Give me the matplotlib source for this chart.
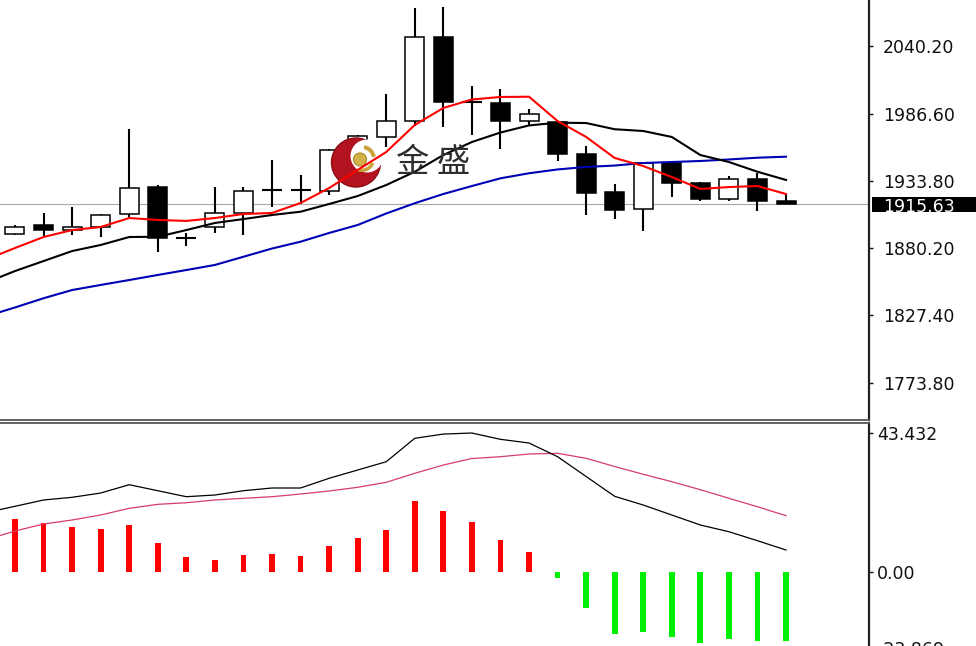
import numpy as np
import matplotlib
matplotlib.use('Agg')
import matplotlib.pyplot as plt
from matplotlib.patches import Rectangle, Circle, Wedge
from matplotlib.transforms import Affine2D, blended_transform_factory

# ---------------- data ----------------
opens = [1891.6, 1898.7, 1894.7, 1896.9, 1907.2, 1928.7, 1888.7, 1896.9, 1908.0, 1926.4,
         1926.4, 1925.8, 1958.0, 1968.5, 1981.2, 2047.6, 1995.7, 1994.9, 1981.2, 1980.1,
         1954.8, 1924.6, 1911.1, 1948.0, 1931.7, 1919.3, 1934.8, 1917.7]
highs = [1898.7, 1908.0, 1913.2, 1907.6, 1974.4, 1930.1, 1892.1, 1928.5, 1929.0, 1950.1,
         1938.5, 1958.5, 1969.8, 2002.3, 2070.0, 2070.8, 2008.6, 2006.0, 1990.4, 1980.4,
         1961.4, 1931.4, 1948.7, 1948.5, 1932.7, 1937.4, 1940.0, 1923.0]
lows = [1890.4, 1889.0, 1890.6, 1889.0, 1904.8, 1877.1, 1882.1, 1892.6, 1890.6, 1913.2,
        1915.3, 1922.7, 1956.4, 1960.6, 1977.0, 1975.9, 1969.8, 1958.5, 1977.8, 1949.5,
        1906.6, 1903.2, 1894.2, 1920.6, 1917.7, 1917.7, 1910.0, 1915.6]
closes = [1897.1, 1894.5, 1897.4, 1906.8, 1928.2, 1888.7, 1888.7, 1908.0, 1925.8, 1926.4,
          1926.4, 1958.0, 1968.7, 1980.9, 2047.6, 1995.7, 1995.7, 1980.9, 1986.2, 1954.6,
          1924.2, 1910.6, 1948.0, 1931.7, 1919.3, 1934.8, 1917.7, 1915.63]

# moving averages (first value belongs to the bar before the first visible one)
ma_red = [1871.5, 1880.5, 1889.2, 1894.7, 1897.1, 1904.2, 1902.7, 1901.9, 1904.2, 1907.4,
          1908.2, 1916.1, 1927.9, 1942.2, 1956.4, 1977.8, 1991.2, 1997.9, 1999.9, 2000.1,
          1980.9, 1968.3, 1951.7, 1945.3, 1936.6, 1927.2, 1928.7, 1929.5, 1923.2]
ma_black = [1853.3, 1862.3, 1870.2, 1878.1, 1882.9, 1889.2, 1889.4, 1894.7, 1900.3, 1903.4,
            1906.6, 1909.2, 1915.3, 1921.6, 1930.3, 1940.8, 1954.0, 1964.3, 1971.8, 1977.4,
            1979.6, 1979.3, 1974.4, 1973.0, 1968.3, 1954.0, 1948.5, 1940.8, 1934.3]
ma_blue = [1826.6, 1833.5, 1840.8, 1847.3, 1851.3, 1855.2, 1859.2, 1863.1, 1867.1, 1873.6,
           1880.1, 1885.5, 1892.4, 1898.7, 1907.8, 1915.9, 1923.2, 1929.5, 1935.6, 1939.6,
           1942.6, 1944.6, 1945.7, 1947.7, 1948.5, 1949.3, 1950.5, 1951.9, 1952.7]

hist = [16.65, 15.31, 14.06, 13.44, 14.69, 9.06, 4.58, 3.85, 5.21, 5.52,
        5.00, 8.12, 10.73, 13.02, 22.18, 19.16, 15.62, 10.0, 6.25, -1.77,
        -11.15, -19.37, -18.64, -20.41, -22.28, -21.04, -21.56, -21.56]
osc_line = [18.6, 20.53, 22.50, 23.34, 24.68, 27.28, 25.40, 23.53, 24.06, 25.40,
            26.25, 26.25, 29.28, 31.87, 34.46, 41.78, 43.1, 43.43, 41.46, 40.31,
            36.03, 29.84, 23.65, 20.93, 17.81, 14.69, 12.59, 9.78, 6.87]
signal_line = [10.1, 12.81, 15.00, 16.25, 17.81, 19.90, 21.15, 21.65, 22.50, 23.03,
               23.53, 24.37, 25.31, 26.47, 28.03, 30.84, 33.43, 35.46, 36.03, 36.87,
               37.09, 35.53, 32.96, 30.53, 28.22, 25.72, 23.03, 20.40, 17.59]

price_ticks = [2040.20, 1986.60, 1933.80, 1880.20, 1827.40, 1773.80]
price_tick_labels = ['2040.20', '1986.60', '1933.80', '1880.20', '1827.40', '1773.80']
osc_ticks = [43.432, 0.0, -23.869]
osc_tick_labels = ['43.432', '0.00', '-23.869']
last_price = 1915.63
last_price_label = '1915.63'
watermark = '金 盛'

# ---------------- figure ----------------
W, H = 976, 646
fig = plt.figure(figsize=(W / 100, H / 100), dpi=100)
fig.patch.set_facecolor('white')

ax = fig.add_axes([0, 1 - 420 / H, 869 / W, 420 / H])
ax2 = fig.add_axes([0, (646 - 648.4) / H, 869 / W, 225.4 / H])

n = len(opens)
xi = np.arange(n)
xl = np.arange(-1, n)
XLIM = (-0.525, 29.906)

# gray current price line
ax.axhline(last_price, color='#a8a8a8', lw=0.8, zorder=1)

body_w = 0.665
for i in range(n):
    o, h, l, c = opens[i], highs[i], lows[i], closes[i]
    ax.plot([i, i], [l, h], color='black', lw=1.5, zorder=2, solid_capstyle='butt')
    if abs(c - o) < 0.05:
        ax.plot([i - 0.35, i + 0.35], [c, c], color='black', lw=1.5, zorder=2.1,
                solid_capstyle='butt')
    else:
        fc = 'white' if c > o else 'black'
        ax.add_patch(Rectangle((i - body_w / 2, min(o, c)), body_w, abs(c - o),
                               facecolor=fc, edgecolor='black', lw=1.1, zorder=2.1))

# watermark logo (pixel coordinates, y down)
T = Affine2D().scale(1, -1).translate(0, H)
ax.add_patch(Circle((356, 162.5), 24.5, transform=T, facecolor='#b3121f',
                    edgecolor='#8a0c14', lw=1, zorder=3))
ax.add_patch(Circle((367, 156), 16.5, transform=T, facecolor='white',
                    edgecolor='none', zorder=3.1))
ax.add_patch(Wedge((362, 159), 13, 20, 110, width=3.5, transform=T,
                   facecolor='#c9a23a', edgecolor='none', zorder=3.2))
ax.add_patch(Wedge((362, 159), 14, 280, 350, width=4, transform=T,
                   facecolor='#c9a23a', edgecolor='none', zorder=3.2))
ax.add_patch(Circle((360, 159.5), 6.5, transform=T, facecolor='#d4b24a',
                    edgecolor='#a8862a', lw=0.8, zorder=3.3))
fig.text(433 / W, 1 - 163 / H, watermark, ha='center', va='center', fontsize=24,
         color='#2e2e2e', family=['Noto Sans CJK SC', 'DejaVu Sans'], zorder=5)

ax.plot(xl, ma_blue, color='#0000b4', lw=1.5, zorder=4)
ax.plot(xl, ma_black, color='black', lw=1.5, zorder=4.1)
ax.plot(xl, ma_red, color='#ff0000', lw=1.5, zorder=4.2)

ax.set_xlim(*XLIM)
ax.set_ylim(1744.55, 2076.56)
ax.set_xticks([])
ax.yaxis.tick_right()
ax.set_yticks(price_ticks)
ax.set_yticklabels(price_tick_labels)
ax.tick_params(axis='y', direction='out', length=3, width=1, pad=7, labelsize=12.5,
               labelcolor='#101010', color='#101010')
for s in ['top', 'left']:
    ax.spines[s].set_visible(False)
ax.spines['right'].set_color('#202020')
ax.spines['right'].set_linewidth(1.6)
ax.spines['bottom'].set_color('#555555')
ax.spines['bottom'].set_linewidth(1.3)
ax.set_facecolor('none')

# current price box
fig.add_artist(Rectangle((872 / W, 1 - 211.7 / H), (W - 872) / W, 15 / H,
                         transform=fig.transFigure, facecolor='black', edgecolor='none'))
fig.text(883 / W, 1 - 204.5 / H, last_price_label, ha='left', va='center_baseline',
         fontsize=12.5, color='white')

# ---------------- oscillator ----------------
colors = ['#ff0000' if v > 0 else '#00ee00' for v in hist]
ax2.bar(xi, hist, width=0.2, color=colors, zorder=2)
ax2.plot(xl, signal_line, color='#d63c6a', lw=0.9, zorder=3)
ax2.plot(xl, osc_line, color='black', lw=0.9, zorder=3.1)
ax2.set_xlim(*XLIM)
ax2.set_ylim(-23.869, 46.56)
ax2.set_xticks([])
ax2.yaxis.tick_right()
ax2.set_yticks(osc_ticks)
ax2.set_yticklabels(osc_tick_labels)
ax2.tick_params(axis='y', direction='out', length=3, width=1, pad=3, labelsize=12.5,
                labelcolor='#101010', color='#101010')
for s in ['bottom', 'left']:
    ax2.spines[s].set_visible(False)
ax2.spines['right'].set_color('#202020')
ax2.spines['right'].set_linewidth(1.6)
ax2.spines['top'].set_color('#555555')
ax2.spines['top'].set_linewidth(1.3)

fig.savefig('out.png', dpi=100)
